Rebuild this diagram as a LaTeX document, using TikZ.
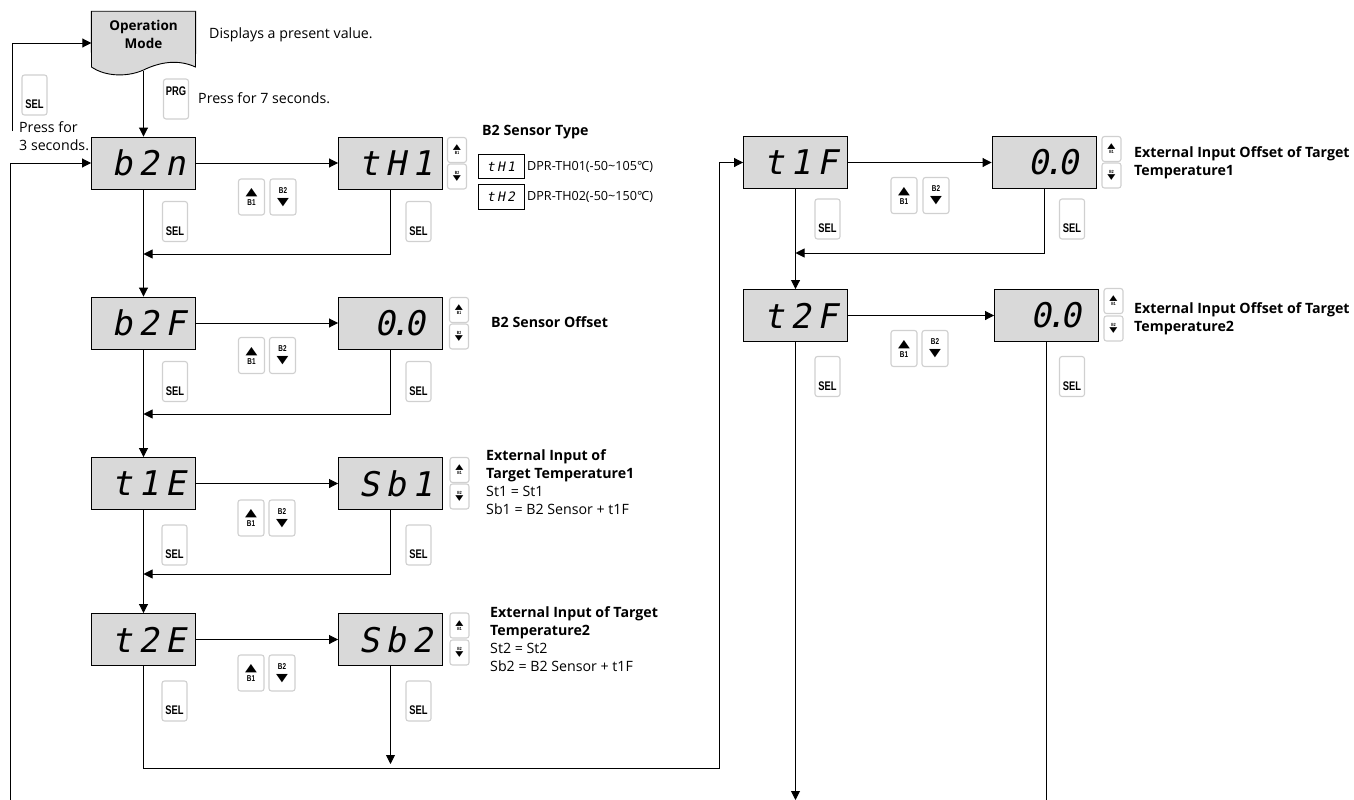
\documentclass[tikz,border=0pt]{standalone}
\usepackage{fontspec}
\setmainfont{Open Sans}
\newfontfamily\lcdfont[FakeSlant=0.2,LetterSpace=18]{DejaVu Sans Mono}
\newfontfamily\btnfont[FakeStretch=0.75]{Liberation Sans}
\newfontfamily\markfont[FakeStretch=1.4]{DejaVu Sans}
\usetikzlibrary{arrows.meta,backgrounds}
\definecolor{ink}{HTML}{000000}
\definecolor{lcdfill}{HTML}{D9D9D9}
\definecolor{btnline}{HTML}{D0D0D0}
\newcommand\upkey{{\markfont\fontsize{11}{11}\selectfont ▲}\\[2pt]B1}
\newcommand\downkey{B2\\[4pt]{\markfont\fontsize{11}{11}\selectfont ▼}}
\newcommand\upmini{{\markfont\fontsize{7.5}{7.5}\selectfont ▲}\\[0pt]B1}
\newcommand\downmini{B2\\[1.5pt]{\markfont\fontsize{7.5}{7.5}\selectfont ▼}}
\newcommand\zeroval{\hspace{8pt}0\kern-5.5pt.\kern-5.5pt0}

\begin{document}
\begin{tikzpicture}[
  x=1pt,
  y=-1pt,
  text=ink,
  lcd/.style={
    draw=ink,
    line width=0.9pt,
    fill=lcdfill,
    minimum width=104pt,
    minimum height=52pt,
    inner sep=0pt,
    font=\lcdfont\fontsize{34}{34}\selectfont,
    execute at begin node=\hspace{10pt}
  },
  lcdtype/.style={
    draw=ink,
    line width=0.8pt,
    minimum width=46pt,
    minimum height=24.5pt,
    inner sep=0pt,
    font=\lcdfont\fontsize{13}{13}\selectfont
  },
  selbtn/.style={
    draw=btnline,
    line width=1.1pt,
    rounded corners=2.5pt,
    minimum width=25pt,
    minimum height=40pt,
    inner sep=0pt,
    text height=31.5pt,
    text depth=4.5pt,
    font=\btnfont\bfseries\fontsize{12.5}{12.5}\selectfont
  },
  prgbtn/.style={selbtn, text height=16pt, text depth=24pt},
  keybtn/.style={
    draw=btnline,
    line width=1.1pt,
    rounded corners=2.5pt,
    minimum width=26pt,
    minimum height=36pt,
    inner sep=0pt,
    align=center,
    font=\btnfont\bfseries\fontsize{8.5}{8}\selectfont
  },
  minibtn/.style={
    keybtn,
    minimum width=19pt,
    minimum height=25pt,
    font=\btnfont\bfseries\fontsize{4.5}{5}\selectfont
  },
  arrow/.style={-{Triangle[length=9pt,width=9pt]}, line width=0.9pt, draw=ink},
  link/.style={line width=0.9pt, draw=ink},
  note/.style={
    anchor=west,
    inner sep=0pt,
    align=left,
    font=\fontsize{14.2}{18}\selectfont
  },
  typenote/.style={note, font=\fontsize{12.6}{14}\selectfont}
]
\useasboundingbox (0,0) rectangle (1354,800);

% Entry into the menu
\node[minimum width=104pt, minimum height=63pt, inner sep=0pt, align=center,
  font=\bfseries\fontsize{13.5}{18}\selectfont] (opmode) at (143.5,43) {Operation\\Mode\\[0pt]};
\node[note] (opnote) at (209,35) {Displays a present value.};
\node[prgbtn] (prg) at (176,99) {PRG};
\node[note] (prgnote) at (198,98) {Press for 7 seconds.};
\node[selbtn] (selback) at (34.5,95) {SEL};
\node[note] (backnote) at (19,136) {Press for\\3 seconds.};

\begin{scope}[on background layer]
  \draw[draw=ink, line width=0.9pt, fill=lcdfill] (opmode.north west) -- (opmode.north east) -- (195.5,67)
    .. controls (178,59) and (160,62) .. (143.5,70)
    .. controls (128,77) and (106,77) .. (91.5,67) -- cycle;
\end{scope}

% Left column, first page of parameters
\node[lcd] (b2n) at (143.5,163) {b2n};
\node[lcd] (tH1) at (390.5,163) {tH1};
\node[lcd] (b2F) at (143.5,323) {b2F};
\node[lcd] (b2Fval) at (390.5,323) {\zeroval};
\node[lcd] (t1E) at (143.5,483.5) {t1E};
\node[lcd] (Sb1) at (390.5,483.5) {Sb1};
\node[lcd] (t2E) at (143.5,639.5) {t2E};
\node[lcd] (Sb2) at (390.5,639.5) {Sb2};

% Right column
\node[lcd] (t1F) at (795.5,162.5) {t1F};
\node[lcd] (t1Fval) at (1044,162.5) {\zeroval};
\node[lcd] (t2F) at (795.5,315.5) {t2F};
\node[lcd] (t2Fval) at (1046.5,315.5) {\zeroval};

% SEL keys
\node[selbtn] (selb2n) at (175,221.5) {SEL};
\node[selbtn] (seltH1) at (418.5,221.5) {SEL};
\node[selbtn] (selb2F) at (175,381.5) {SEL};
\node[selbtn] (selb2Fval) at (418.5,381.5) {SEL};
\node[selbtn] (selt1E) at (174.5,545) {SEL};
\node[selbtn] (selSb1) at (418.5,545) {SEL};
\node[selbtn] (selt2E) at (174.5,701) {SEL};
\node[selbtn] (selSb2) at (418.5,701) {SEL};
\node[selbtn] (selt1F) at (827.5,219) {SEL};
\node[selbtn] (selt1Fval) at (1072,219) {SEL};
\node[selbtn] (selt2F) at (827.5,376.5) {SEL};
\node[selbtn] (selt2Fval) at (1072,376.5) {SEL};

% B1 and B2 keys between the displays
\node[keybtn] (upb2n) at (251.5,197) {\upkey};
\node[keybtn] (downb2n) at (283,197) {\downkey};
\node[keybtn] (upb2F) at (251.5,355.5) {\upkey};
\node[keybtn] (downb2F) at (282.5,355.5) {\downkey};
\node[keybtn] (upt1E) at (251,518) {\upkey};
\node[keybtn] (downt1E) at (282,518) {\downkey};
\node[keybtn] (upt2E) at (251,673) {\upkey};
\node[keybtn] (downt2E) at (282,673) {\downkey};
\node[keybtn] (upt1F) at (904,195.5) {\upkey};
\node[keybtn] (downt1F) at (936,195.5) {\downkey};
\node[keybtn] (upt2F) at (904,348.5) {\upkey};
\node[keybtn] (downt2F) at (935,348.5) {\downkey};

% Small keys beside the values
\node[minibtn] (minib1a) at (457,150) {\upmini};
\node[minibtn] (minib2a) at (457,176.5) {\downmini};
\node[minibtn] (minib1b) at (459,310) {\upmini};
\node[minibtn] (minib2b) at (459,336.5) {\downmini};
\node[minibtn] (minib1c) at (459.5,470) {\upmini};
\node[minibtn] (minib2c) at (459.5,496.5) {\downmini};
\node[minibtn] (minib1d) at (459.5,625.5) {\upmini};
\node[minibtn] (minib2d) at (459.5,652.5) {\downmini};
\node[minibtn] (minib1e) at (1111.5,149) {\upmini};
\node[minibtn] (minib2e) at (1111.5,175.5) {\downmini};
\node[minibtn] (minib1f) at (1113.5,301) {\upmini};
\node[minibtn] (minib2f) at (1113.5,328.5) {\downmini};

% Descriptions
\node[note] (typehead) at (482,132) {\textbf{B2 Sensor Type}};
\node[lcdtype] (typeone) at (501,166.5) {tH1};
\node[typenote] (typeonenote) at (527,167) {DPR-TH01(-50\textasciitilde105°\kern-1ptC)};
\node[lcdtype] (typetwo) at (501,197) {tH2};
\node[typenote] (typetwonote) at (527,197) {DPR-TH02(-50\textasciitilde150°\kern-1ptC)};
\node[note] (b2Fnote) at (491,322) {\textbf{B2 Sensor Offset}};
\node[note] (t1Enote) at (486,482.5) {\textbf{External Input of}\\\textbf{Target Temperature1}\\St1 = St1\\Sb1 = B2 Sensor + t1F};
\node[note] (t2Enote) at (490,639) {\textbf{External Input of Target}\\\textbf{Temperature2}\\St2 = St2\\Sb2 = B2 Sensor + t1F};
\node[note] (t1Fnote) at (1134,162.5) {\textbf{External Input Offset of Target}\\\textbf{Temperature1}};
\node[note] (t2Fnote) at (1134,318.5) {\textbf{External Input Offset of Target}\\\textbf{Temperature2}};

% Free ends and corners of the connectors
\coordinate (backstart) at (12,131);
\coordinate (loopend) at (10.5,800);
\coordinate (wavemid) at (143.5,71);
\coordinate (join1) at (143.5,254);
\coordinate (join2) at (143.5,414);
\coordinate (join3) at (143.5,574);
\coordinate (riser) at (719,768);
\coordinate (sb2end) at (390.5,764);
\coordinate (join4) at (795.5,253);
\coordinate (t2Fend) at (795.5,800);
\coordinate (t2Fvalend) at (1046.5,800);

% Connectors
\draw[arrow] (backstart) |- (opmode.west);
\draw[arrow] (loopend) |- (b2n.west);
\draw[arrow] (wavemid) -- (b2n.north);
\draw[arrow] (b2n) -- (tH1);
\draw[arrow] (b2n) -- (b2F);
\draw[arrow] (tH1.south) |- (join1);
\draw[arrow] (b2F) -- (b2Fval);
\draw[arrow] (b2F) -- (t1E);
\draw[arrow] (b2Fval.south) |- (join2);
\draw[arrow] (t1E) -- (Sb1);
\draw[arrow] (t1E) -- (t2E);
\draw[arrow] (Sb1.south) |- (join3);
\draw[arrow] (t2E) -- (Sb2);
\draw[arrow] (Sb2.south) -- (sb2end);
\draw[arrow] (t2E.south) |- (riser) |- (t1F.west);
\draw[arrow] (t1F) -- (t1Fval);
\draw[arrow] (t1F) -- (t2F);
\draw[arrow] (t1Fval.south) |- (join4);
\draw[arrow] (t2F) -- (t2Fval);
\draw[arrow] (t2F.south) -- (t2Fend);
\draw[link] (t2Fval.south) -- (t2Fvalend);

\end{tikzpicture}
\end{document}
